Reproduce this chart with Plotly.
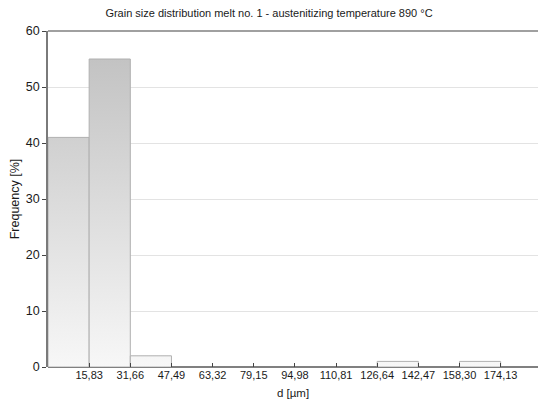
import plotly.graph_objects as go

# Data
edge_labels = ["15,83", "31,66", "47,49", "63,32", "79,15", "94,98",
               "110,81", "126,64", "142,47", "158,30", "174,13"]
edge_values = [15.83, 31.66, 47.49, 63.32, 79.15, 94.98,
               110.81, 126.64, 142.47, 158.30, 174.13]
bin_edges = [0.0] + edge_values
frequency = [41, 55, 2, 0, 0, 0, 0, 0, 1, 0, 1]

title = "Grain size distribution melt no. 1 - austenitizing temperature 890 °C"
FONT = "Liberation Sans, Arial, sans-serif"

fig = go.Figure()

for i, f in enumerate(frequency):
    if f <= 0:
        continue
    x0, x1 = bin_edges[i], bin_edges[i + 1]
    fig.add_trace(go.Scatter(
        x=[x0, x0, x1, x1, x0],
        y=[0, f, f, 0, 0],
        mode="lines",
        fill="toself",
        line=dict(color="#b0b0b0", width=1),
        fillgradient=dict(type="vertical",
                          colorscale=[[0, "#f7f7f7"], [1, "#c3c3c3"]],
                          start=0, stop=55),
        hoverinfo="skip",
        showlegend=False,
    ))

# top frame line of the plot area
fig.add_shape(type="line", xref="paper", yref="paper", x0=0, x1=1, y0=1, y1=1,
              line=dict(color="#808080", width=1.5), layer="above")

xr = [0, 188.5]
fig.update_layout(
    width=538, height=408,
    margin=dict(l=48, r=0, t=31, b=41),
    paper_bgcolor="white", plot_bgcolor="white",
    font=dict(family=FONT, size=12, color="#1a1a1a"),
    title=dict(text=title, x=0.5, xanchor="center", y=0.968, yanchor="middle",
               font=dict(family=FONT, size=11, color="#1a1a1a")),
    xaxis=dict(range=xr, tickvals=edge_values, ticktext=edge_labels,
               ticks="inside", ticklen=4, tickcolor="#444",
               showline=False, showgrid=False, zeroline=False,
               tickfont=dict(size=11),
               title=dict(text="d [µm]", font=dict(size=11.5), standoff=8)),
    yaxis=dict(range=[0, 60], tickvals=[0, 10, 20, 30, 40, 50, 60],
               ticks="outside", ticklen=4, tickcolor="#444", mirror=False,
               showline=True, linecolor="#7a7a7a", linewidth=1.5,
               showgrid=True, gridcolor="#e3e3e3", gridwidth=1,
               zeroline=True, zerolinecolor="#808080", zerolinewidth=1.5,
               tickfont=dict(size=12.5),
               title=dict(text="Frequency [%]", font=dict(size=12.5), standoff=3)),
)

fig.write_html("out.html", config={"displayModeBar": False})
